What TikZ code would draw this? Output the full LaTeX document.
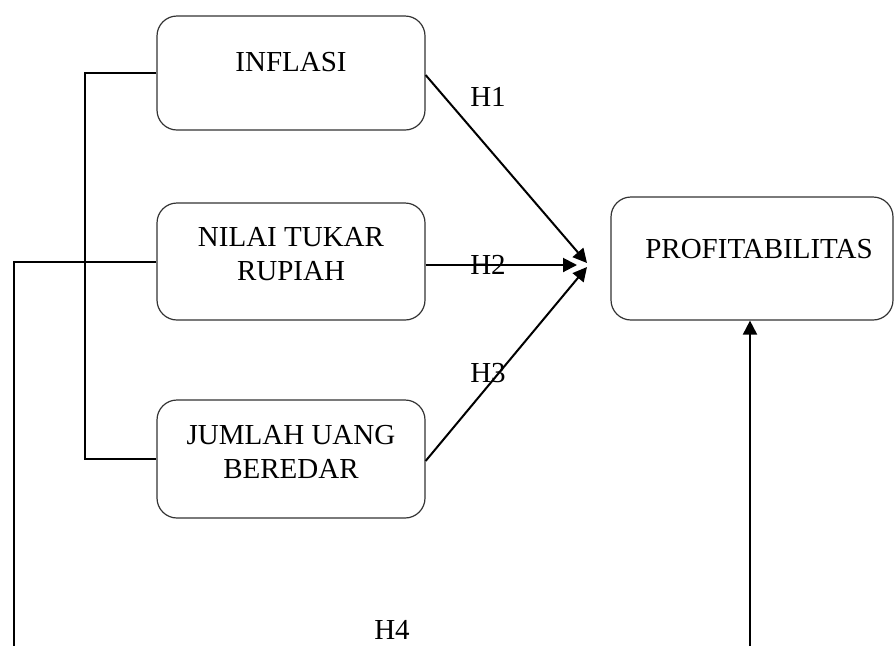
\documentclass[tikz,border=0pt]{standalone}
\usepackage{fontspec}
\setmainfont{Liberation Serif}
\usetikzlibrary{arrows.meta}
\begin{document}
\begin{tikzpicture}[x=1pt,y=-1pt,
  box/.style={draw=black!80,line width=1.2pt,rounded corners=20pt,inner sep=0pt},
  lbl/.style={font=\fontsize{29}{34}\selectfont,align=center,inner sep=0pt},
  conn/.style={draw=black,line width=2pt},
  arr/.style={conn,-{Triangle[length=14pt,width=14pt]}}]
\useasboundingbox (0,0) rectangle (894,646);
\node[box,minimum width=268pt,minimum height=114pt] (inf) at (291,73) {};
\node[box,minimum width=268pt,minimum height=117pt] (nil) at (291,261.5) {};
\node[box,minimum width=268pt,minimum height=118pt] (jum) at (291,459) {};
\node[box,minimum width=282pt,minimum height=123pt] (prof) at (752,258.5) {};
\node[lbl] (tinf) at (291,62) {INFLASI};
\node[lbl] (tnil) at (291,254) {NILAI TUKAR\\RUPIAH};
\node[lbl] (tjum) at (291,452) {JUMLAH UANG\\BEREDAR};
\node[lbl] (tprof) at (759,249) {PROFITABILITAS};
\coordinate (c1) at (587,263);
\coordinate (c2) at (577,265);
\coordinate (c3) at (587,267);
\coordinate (lb) at (14,646);
\coordinate (rb) at (750,646);
\draw[conn] (inf.west) -- ++(-71,0) |- (jum.west);
\draw[conn] (nil.west) -| (lb);
\draw[arr] ([yshift=-2pt]inf.east) -- (c1);
\draw[arr] (nil.east |- c2) -- (c2);
\draw[arr] ([yshift=-2pt]jum.east) -- (c3);
\draw[arr] (rb) -- (rb |- prof.south);
\node[lbl] (h1) at (488,97) {H1};
\node[lbl] (h2) at (488,265) {H2};
\node[lbl] (h3) at (488,373) {H3};
\node[lbl] (h4) at (392,630) {H4};
\end{tikzpicture}
\end{document}
